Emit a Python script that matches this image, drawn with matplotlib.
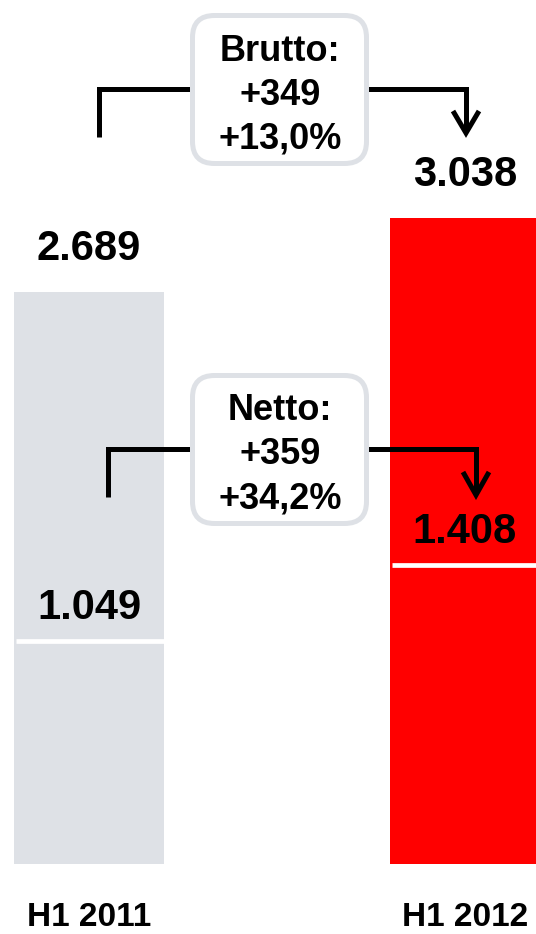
import matplotlib
matplotlib.use("Agg")
import matplotlib.pyplot as plt
import matplotlib.transforms as mtransforms
from matplotlib.patches import FancyBboxPatch

# data
periods = ["H1 2011", "H1 2012"]
gross = [2689, 3038]
net = [1049, 1408]
gross_labels = ["2.689", "3.038"]
net_labels = ["1.049", "1.408"]
change_titles = ["Brutto:", "Netto:"]
change_abs = ["+349", "+359"]
change_pct = ["+13,0%", "+34,2%"]

W, H, DPI = 536, 934, 100
GREY = "#dee1e6"
RED = "#ff0000"

plt.rcParams["font.family"] = ["Liberation Sans", "DejaVu Sans"]
plt.rcParams["font.weight"] = "bold"

fig = plt.figure(figsize=(W / DPI, H / DPI), dpi=DPI)
ax = fig.add_axes([0, 0, 1, 1])
ax.set_xlim(-0.2367, 1.189)
ax.set_ylim(-329, 4062)
ax.axis("off")

x = list(range(len(periods)))
ax.bar(x, gross, width=0.4, color=[GREY, RED], zorder=1)
ax.hlines(net, [i - 0.195 for i in x], [i + 0.2 for i in x],
          colors="white", lw=3.4, zorder=2)

for i in x:
    ax.annotate(gross_labels[i], (i, gross[i]), xytext=(0, 32),
                textcoords="offset pixels", ha="center", va="baseline",
                fontsize=30, fontweight="bold", zorder=5)
    ax.annotate(net_labels[i], (i, net[i]), xytext=(0, 22),
                textcoords="offset pixels", ha="center", va="baseline",
                fontsize=30, fontweight="bold", zorder=5)
    ax.annotate(periods[i], (i, 0), xytext=(0, -62),
                textcoords="offset pixels", ha="center", va="baseline",
                fontsize=24, fontweight="bold")

# annotation layer in pixel coordinates (origin top-left)
pix = mtransforms.Affine2D().scale(1, -1).translate(0, H)
lw = 3.6

# connector paths: (left elbow, right elbow, arrow tip)
connectors = [
    dict(left=[(99, 137), (99, 89), (200, 89)],
         right=[(360, 89), (466, 89), (466, 131)],
         wing=[(453, 111), (466, 133), (479, 111)],
         box_top=13, baselines=[61, 105, 149]),
    dict(left=[(108, 497), (108, 449), (200, 449)],
         right=[(360, 449), (476, 449), (476, 493)],
         wing=[(463, 472), (476, 495), (489, 472)],
         box_top=373, baselines=[420, 464, 508]),
]

for k, c in enumerate(connectors):
    for seg in (c["left"], c["right"], c["wing"]):
        xs, ys = zip(*seg)
        ax.plot(xs, ys, color="black", lw=lw, transform=pix,
                solid_joinstyle="miter", solid_capstyle="butt", zorder=6)
    box = FancyBboxPatch((192.5, c["box_top"] + 2.5), 174, 148,
                         boxstyle="round,pad=0,rounding_size=22",
                         facecolor="white", edgecolor=GREY, lw=3.6,
                         transform=pix, zorder=7)
    ax.add_patch(box)
    lines = [change_titles[k], change_abs[k], change_pct[k]]
    for s, b in zip(lines, c["baselines"]):
        ax.text(280, b, s, transform=pix, ha="center", va="baseline",
                fontsize=26, fontweight="bold", zorder=8)

fig.savefig("out.png", dpi=DPI)
